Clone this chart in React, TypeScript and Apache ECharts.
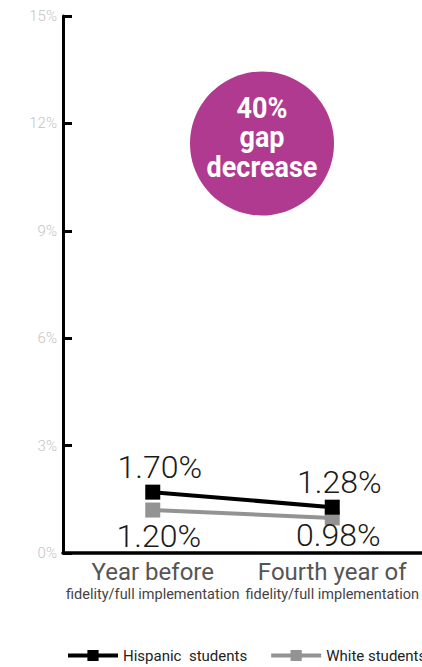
import React, { useEffect, useRef } from "react";
import * as echarts from "echarts";

// Dropout rates by group, before and in the fourth year of full implementation
const categories = ["Year before", "Fourth year of"];
const subLabels = ["fidelity/full implementation", "fidelity/full implementation"];
const hispanic = [1.7, 1.28];
const white = [1.2, 0.98];
const yTicks = { min: 0, max: 15, interval: 3 };
const badgeLines = ["40%", "gap", "decrease"];

export default function App() {
  const ref = useRef<HTMLDivElement>(null);

  useEffect(() => {
    document.body.style.margin = "0";
    const chart = echarts.init(ref.current!, null, { renderer: "svg" });
    const font = "Roboto, 'Noto Sans', sans-serif";
    const pct = (p: any) => `${Number(p.value).toFixed(2)}%`;
    // lower labels sit on a common baseline just above the x axis
    const whiteLabelDistance = [2, -6];
    chart.setOption({
      animation: false,
      textStyle: { fontFamily: font },
      grid: { left: 63, top: 16, width: 366, height: 537 },
      xAxis: {
        type: "category",
        data: categories,
        boundaryGap: true,
        axisLine: { lineStyle: { color: "#000", width: 3.5 } },
        axisTick: { inside: true, length: 13, lineStyle: { color: "#000", width: 3 } },
        axisLabel: {
          margin: 6,
          interval: 0,
          formatter: (v: string, i: number) => `{a|${v}}\n{b|${subLabels[i]}}`,
          rich: {
            a: { fontSize: 24, color: "#555", fontFamily: font, lineHeight: 26 },
            b: { fontSize: 14.5, color: "#444", fontFamily: font, lineHeight: 18 },
          },
        },
      },
      yAxis: {
        type: "value",
        min: yTicks.min,
        max: yTicks.max,
        interval: yTicks.interval,
        splitLine: { show: false },
        axisLine: { show: true, lineStyle: { color: "#000", width: 3 } },
        axisTick: { show: true, inside: true, length: 9, lineStyle: { color: "#000", width: 3 } },
        axisLabel: {
          formatter: "{value}%",
          color: "#c4c4c4",
          fontSize: 15,
          fontWeight: 300,
          margin: 6,
        },
      },
      legend: {
        top: 648,
        left: 66,
        width: 800,
        padding: 0,
        itemWidth: 50,
        itemHeight: 14,
        itemGap: 22,
        lineStyle: { width: 4 },
        textStyle: { fontSize: 15, color: "#222", fontFamily: font },
        data: ["Hispanic  students", "White students"],
      },
      series: [
        {
          name: "Hispanic  students",
          type: "line",
          data: hispanic,
          symbol: "rect",
          symbolSize: 15,
          z: 3,
          itemStyle: { color: "#000" },
          lineStyle: { color: "#000", width: 4 },
          label: {
            show: true,
            position: "top",
            distance: 2,
            offset: [7, 0],
            fontSize: 32,
            fontWeight: 300,
            color: "#1a1a1a",
            formatter: pct,
          },
        },
        {
          name: "White students",
          type: "line",
          data: white.map((v, i) => ({ value: v, label: { distance: whiteLabelDistance[i] } })),
          symbol: "rect",
          symbolSize: 15,
          z: 2,
          itemStyle: { color: "#939393" },
          lineStyle: { color: "#939393", width: 4 },
          label: {
            show: true,
            position: "bottom",
            offset: [6, 0],
            fontSize: 32,
            fontWeight: 300,
            color: "#1a1a1a",
            formatter: pct,
          },
        },
      ],
      graphic: [
        {
          type: "circle",
          shape: { cx: 262, cy: 143.5, r: 72 },
          style: { fill: "#B03A8F" },
          z: 10,
        },
        ...badgeLines.map((t, i) => ({
          type: "text",
          x: 262,
          y: 108 + i * 29.5,
          scaleX: 0.9,
          z: 11,
          style: {
            text: t,
            fill: "#fff",
            font: `bold 30px ${font}`,
            textAlign: "center",
            textVerticalAlign: "middle",
          },
        })),
      ],
    });
    return () => chart.dispose();
  }, []);

  return <div ref={ref} style={{ width: 422, height: 667 }} />;
}
